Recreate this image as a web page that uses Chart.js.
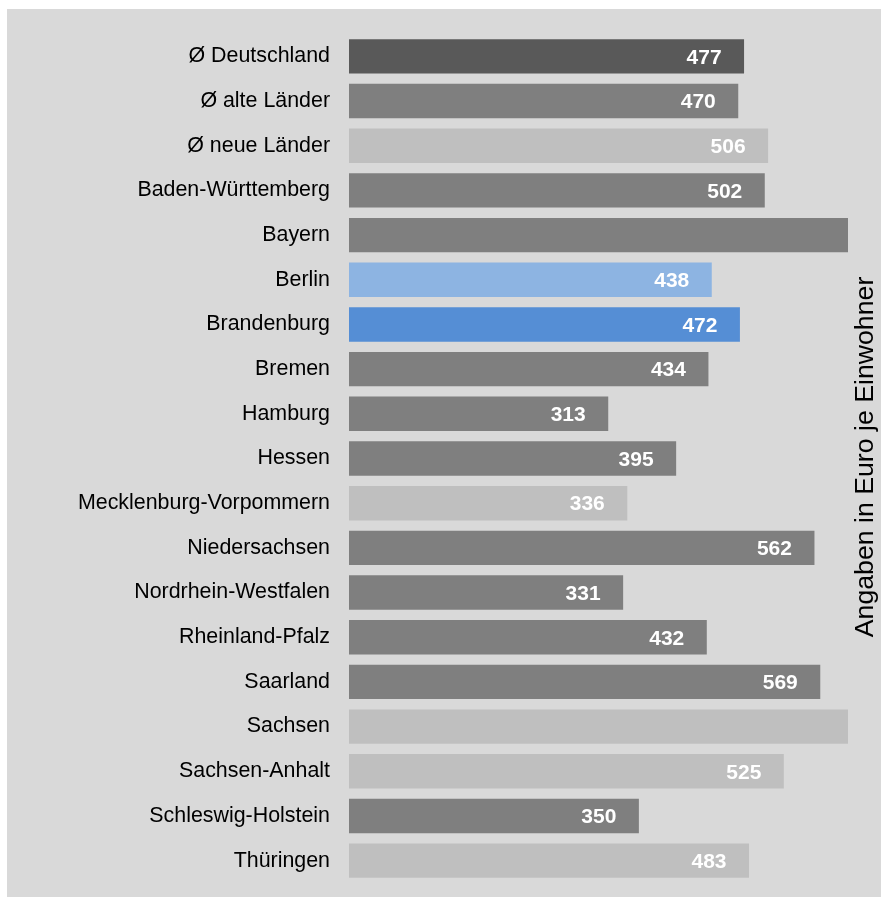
<!DOCTYPE html>
<html>
<head>
<meta charset="utf-8">
<script src="https://cdn.jsdelivr.net/npm/chart.js@4"></script>
<style>
  html, body { margin: 0; padding: 0; background: #ffffff; }
  #box { position: absolute; left: 7px; top: 9px; width: 874px; height: 888px; background: #d9d9d9; }
  canvas { display: block; }
</style>
</head>
<body>
<div id="box"><canvas id="c" width="874" height="888"></canvas></div>
<script>
const categories = [
  "Ø Deutschland", "Ø alte Länder", "Ø neue Länder", "Baden-Württemberg", "Bayern",
  "Berlin", "Brandenburg", "Bremen", "Hamburg", "Hessen", "Mecklenburg-Vorpommern",
  "Niedersachsen", "Nordrhein-Westfalen", "Rheinland-Pfalz", "Saarland", "Sachsen",
  "Sachsen-Anhalt", "Schleswig-Holstein", "Thüringen"
];
const values = [477, 470, 506, 502, 610, 438, 472, 434, 313, 395, 336, 562, 331, 432, 569, 610, 525, 350, 483];
const axisMax = 602.5;
const axisTitle = "Angaben in Euro je Einwohner";

const DARK = "#595959", MID = "#7f7f7f", LIGHT = "#bfbfbf", BLUE1 = "#8db4e2", BLUE2 = "#558ed5";
const barColors = [DARK, MID, LIGHT, MID, MID, BLUE1, BLUE2, MID, MID, MID, LIGHT, MID, MID, MID, MID, LIGHT, LIGHT, MID, LIGHT];

const FONT = "'Liberation Sans', Arial, Helvetica, sans-serif";

const valueLabels = {
  id: "valueLabels",
  afterDatasetsDraw(chart) {
    const ctx = chart.ctx;
    const meta = chart.getDatasetMeta(0);
    ctx.save();
    ctx.font = "bold 21px " + FONT;
    ctx.fillStyle = "#ffffff";
    ctx.textAlign = "right";
    ctx.textBaseline = "middle";
    meta.data.forEach((bar, i) => {
      const v = chart.data.datasets[0].data[i];
      if (v > axisMax) return;
      ctx.fillText(String(v), bar.x - 22.5, bar.y + 1.5);
    });
    ctx.restore();
  }
};

const sideTitle = {
  id: "sideTitle",
  afterDraw(chart) {
    const ctx = chart.ctx;
    ctx.save();
    ctx.font = "26.7px " + FONT;
    ctx.fillStyle = "#000000";
    ctx.textAlign = "center";
    ctx.textBaseline = "middle";
    ctx.translate(859, 448);
    ctx.rotate(-Math.PI / 2);
    ctx.fillText(axisTitle, 0, 0);
    ctx.restore();
  }
};

new Chart(document.getElementById("c"), {
  type: "bar",
  data: {
    labels: categories,
    datasets: [{
      data: values,
      backgroundColor: barColors,
      borderWidth: 0,
      barPercentage: 0.77,
      categoryPercentage: 1.0,
      clip: 0
    }]
  },
  options: {
    indexAxis: "y",
    responsive: false,
    animation: false,
    devicePixelRatio: 1,
    layout: { padding: { left: 0, right: 33, top: 25, bottom: 14 } },
    plugins: { legend: { display: false }, tooltip: { enabled: false } },
    scales: {
      x: { display: false, min: 0, max: axisMax },
      y: {
        grid: { display: false, drawTicks: false },
        border: { display: false },
        ticks: { color: "#000000", font: { family: FONT, size: 21.4 }, padding: 19, autoSkip: false },
        afterFit(scale) { scale.width = 342; scale.paddingTop = 0; scale.paddingBottom = 0; }
      }
    }
  },
  plugins: [valueLabels, sideTitle]
});
</script>
</body>
</html>
